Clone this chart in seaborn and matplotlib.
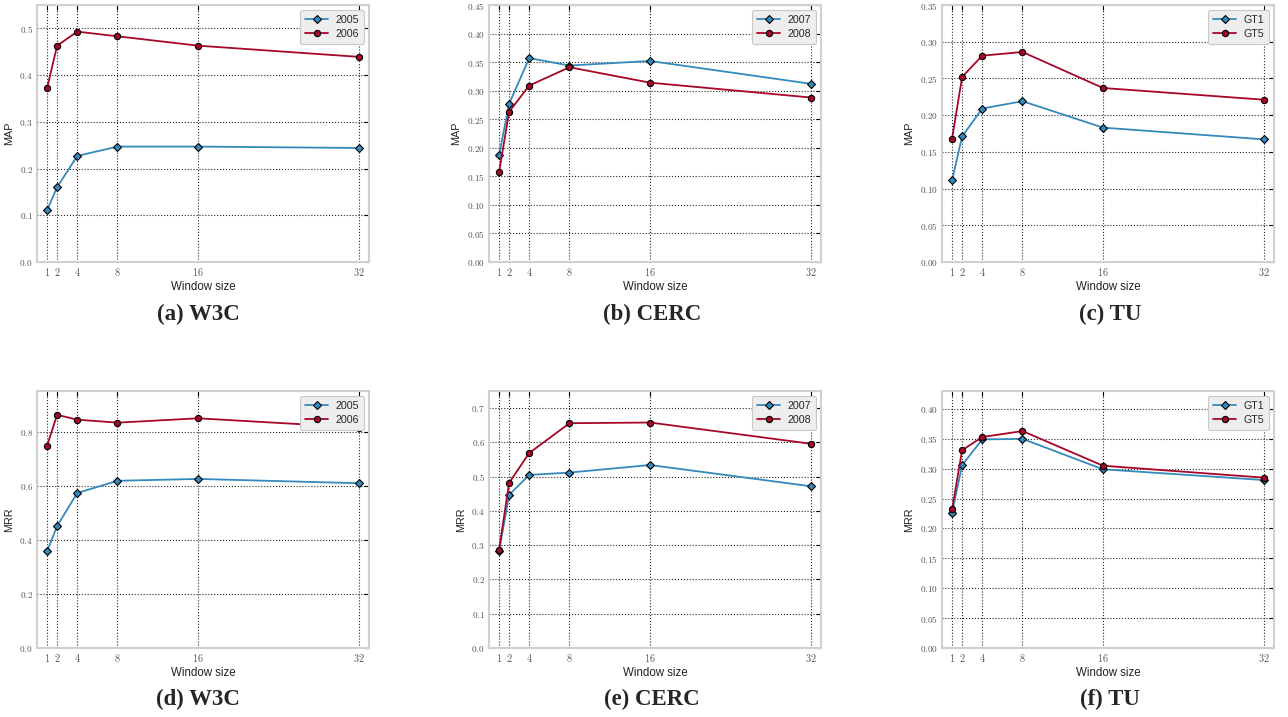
import matplotlib
matplotlib.use("Agg")
import matplotlib.pyplot as plt
import seaborn as sns
import pandas as pd
import numpy as np
from matplotlib.ticker import FixedLocator, FuncFormatter

window = [1, 2, 4, 8, 16, 32]

# (a) W3C MAP
w3c_map_2005 = [0.111, 0.160, 0.227, 0.247, 0.247, 0.244]
w3c_map_2006 = [0.372, 0.463, 0.493, 0.483, 0.463, 0.439]
# (b) CERC MAP
cerc_map_2007 = [0.187, 0.277, 0.357, 0.344, 0.352, 0.312]
cerc_map_2008 = [0.157, 0.263, 0.309, 0.341, 0.314, 0.288]
# (c) TU MAP
tu_map_gt1 = [0.111, 0.171, 0.209, 0.219, 0.183, 0.167]
tu_map_gt5 = [0.168, 0.252, 0.281, 0.286, 0.237, 0.221]
# (d) W3C MRR
w3c_mrr_2005 = [0.357, 0.451, 0.573, 0.618, 0.625, 0.609]
w3c_mrr_2006 = [0.748, 0.862, 0.844, 0.833, 0.849, 0.815]
# (e) CERC MRR
cerc_mrr_2007 = [0.282, 0.447, 0.505, 0.512, 0.534, 0.472]
cerc_mrr_2008 = [0.287, 0.482, 0.569, 0.656, 0.658, 0.596]
# (f) TU MRR
tu_mrr_gt1 = [0.226, 0.306, 0.349, 0.350, 0.299, 0.281]
tu_mrr_gt5 = [0.232, 0.331, 0.353, 0.363, 0.305, 0.285]

panels = [
    dict(s1=("2005", w3c_map_2005), s2=("2006", w3c_map_2006), ylabel="MAP",
         ylim=0.55, yticks=[0.0, 0.1, 0.2, 0.3, 0.4, 0.5], fmt="{:.1f}", caption="(a) W3C"),
    dict(s1=("2007", cerc_map_2007), s2=("2008", cerc_map_2008), ylabel="MAP",
         ylim=0.45, yticks=[0.0, 0.05, 0.1, 0.15, 0.2, 0.25, 0.3, 0.35, 0.4, 0.45], fmt="{:.2f}", caption="(b) CERC"),
    dict(s1=("GT1", tu_map_gt1), s2=("GT5", tu_map_gt5), ylabel="MAP",
         ylim=0.35, yticks=[0.0, 0.05, 0.1, 0.15, 0.2, 0.25, 0.3, 0.35], fmt="{:.2f}", caption="(c) TU"),
    dict(s1=("2005", w3c_mrr_2005), s2=("2006", w3c_mrr_2006), ylabel="MRR",
         ylim=0.95, yticks=[0.0, 0.2, 0.4, 0.6, 0.8], fmt="{:.1f}", caption="(d) W3C"),
    dict(s1=("2007", cerc_mrr_2007), s2=("2008", cerc_mrr_2008), ylabel="MRR",
         ylim=0.75, yticks=[0.0, 0.1, 0.2, 0.3, 0.4, 0.5, 0.6, 0.7], fmt="{:.1f}", caption="(e) CERC"),
    dict(s1=("GT1", tu_mrr_gt1), s2=("GT5", tu_mrr_gt5), ylabel="MRR",
         ylim=0.43, yticks=[0.0, 0.05, 0.1, 0.15, 0.2, 0.25, 0.3, 0.35, 0.4], fmt="{:.2f}", caption="(f) TU"),
]

sns.set_theme(style="white")
plt.rcParams["font.family"] = ["Liberation Sans", "DejaVu Sans"]
plt.rcParams["mathtext.fontset"] = "cm"

W, H = 1288, 717
fig = plt.figure(figsize=(W / 100, H / 100), dpi=100)

col_x = [(37, 369), (489, 821), (942, 1274)]
row_y = [(5, 262), (391, 648)]
cap_x = [198, 652, 1110]
cap_y = [314, 699]

blue = "#348ABD"
red = "#A60628"

for i, p in enumerate(panels):
    r, c = divmod(i, 3)
    x0, x1 = col_x[c]
    y0, y1 = row_y[r]
    ax = fig.add_axes([x0 / W, 1 - y1 / H, (x1 - x0) / W, (y1 - y0) / H])
    n1, v1 = p["s1"]
    n2, v2 = p["s2"]
    df = pd.DataFrame({"w": window * 2, "v": list(v1) + list(v2),
                       "s": [n1] * len(window) + [n2] * len(window)})
    sns.lineplot(data=df, x="w", y="v", hue="s", style="s",
                 palette={n1: blue, n2: red}, markers={n1: "D", n2: "o"},
                 dashes=False, markersize=4.5, markeredgecolor="black",
                 markeredgewidth=0.8, linewidth=1.3, ax=ax, zorder=3)
    ax.set_xlim(0, 33)
    ax.set_ylim(0, p["ylim"])
    ax.xaxis.set_major_locator(FixedLocator(window))
    ax.yaxis.set_major_locator(FixedLocator(p["yticks"]))
    ax.xaxis.set_major_formatter(FuncFormatter(lambda v, pos: r"$%d$" % int(round(v))))
    fmt = p["fmt"]
    ax.yaxis.set_major_formatter(FuncFormatter(lambda v, pos, fmt=fmt: r"$" + fmt.format(v) + r"$"))
    ax.tick_params(axis="y", labelsize=6.6)
    ax.tick_params(axis="x", labelsize=7.4)
    ax.tick_params(direction="in", top=True, right=True, length=3.5, width=0.8,
                   colors="black", labelcolor="#555555", pad=3)
    ax.grid(True, linestyle=":", color="black", linewidth=0.8, alpha=0.85)
    ax.set_axisbelow(True)
    for s in ax.spines.values():
        s.set_color("#d0d0d0")
        s.set_linewidth(1.5)
    ax.set_xlabel("Window size", fontsize=8.3, labelpad=2, color="#222222")
    ax.set_ylabel(p["ylabel"], fontsize=7.8, labelpad=4, color="#222222")
    leg = ax.legend(loc="upper right", fontsize=7.7, frameon=True, fancybox=True,
                    facecolor="#eeeeee", edgecolor="#c8c8c8", framealpha=1,
                    handlelength=2.2, borderpad=0.45, labelspacing=0.4,
                    handletextpad=0.7, borderaxespad=0.45, title=None)
    leg.get_frame().set_linewidth(0.8)
    fig.text(cap_x[c] / W, 1 - cap_y[r] / H, p["caption"], ha="center", va="center",
             family=["Liberation Serif"], fontweight="bold", fontsize=16.5)

fig.savefig("out.png", dpi=100)
